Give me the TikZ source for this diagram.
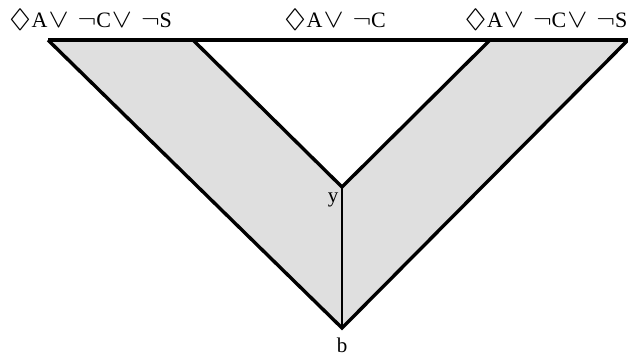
\documentclass[tikz,border=0pt]{standalone}
\usepackage{amssymb}
\usepackage{graphicx}
\usepackage{fontspec}
\setmainfont{Liberation Serif}
\newcommand{\sdia}{\scalebox{1.5}[1.2]{$\Diamond$}\hspace{0.5pt}}
\newcommand{\sor}{\hspace{1pt}\scalebox{1.45}[1.25]{$\vee$}}
\newcommand{\snot}{\scalebox{1.35}[1.2]{$\neg$}}
\newcommand{\orsp}{\hspace{9pt}}
\begin{document}
\begin{tikzpicture}[x=1pt,y=-1pt,
  edge/.style={line width=3.4pt, line join=miter},
  thin edge/.style={line width=2pt},
  lbl/.style={font=\fontsize{22}{24}\selectfont, inner sep=0pt},
  sm/.style={font=\fontsize{21}{23}\selectfont, inner sep=0pt}]
\useasboundingbox (0,0) rectangle (628,357);
\coordinate (OL) at (48,40);
\coordinate (OR) at (628,40);
\coordinate (IL) at (193,40);
\coordinate (IR) at (490,40);
\coordinate (b) at (342,328);
\coordinate (y) at (342,187);
% shaded band
\fill[gray!25] (OL) -- (OR) -- (b) -- cycle;
\fill[white] (IL) -- (IR) -- (y) -- cycle;
% lines
\draw[edge] (OL) -- (OR);
\draw[edge] (OL) -- (b) -- (OR);
\draw[edge] (IL) -- (y) -- (IR);
\draw[thin edge] (y) -- (b);
% labels
\node[lbl, anchor=west] (t1) at (9,20) {\sdia A\sor\orsp\snot C\sor\orsp\snot S};
\node[lbl] (t2) at (335,20) {\sdia A\sor\orsp\snot C};
\node[lbl, anchor=east] (t3) at (627.5,20) {\sdia A\sor\orsp\snot C\sor\orsp\snot S};
\node[sm] (ly) at (333,200) {y};
\node[sm] (lb) at (342,345) {b};
\end{tikzpicture}
\end{document}
